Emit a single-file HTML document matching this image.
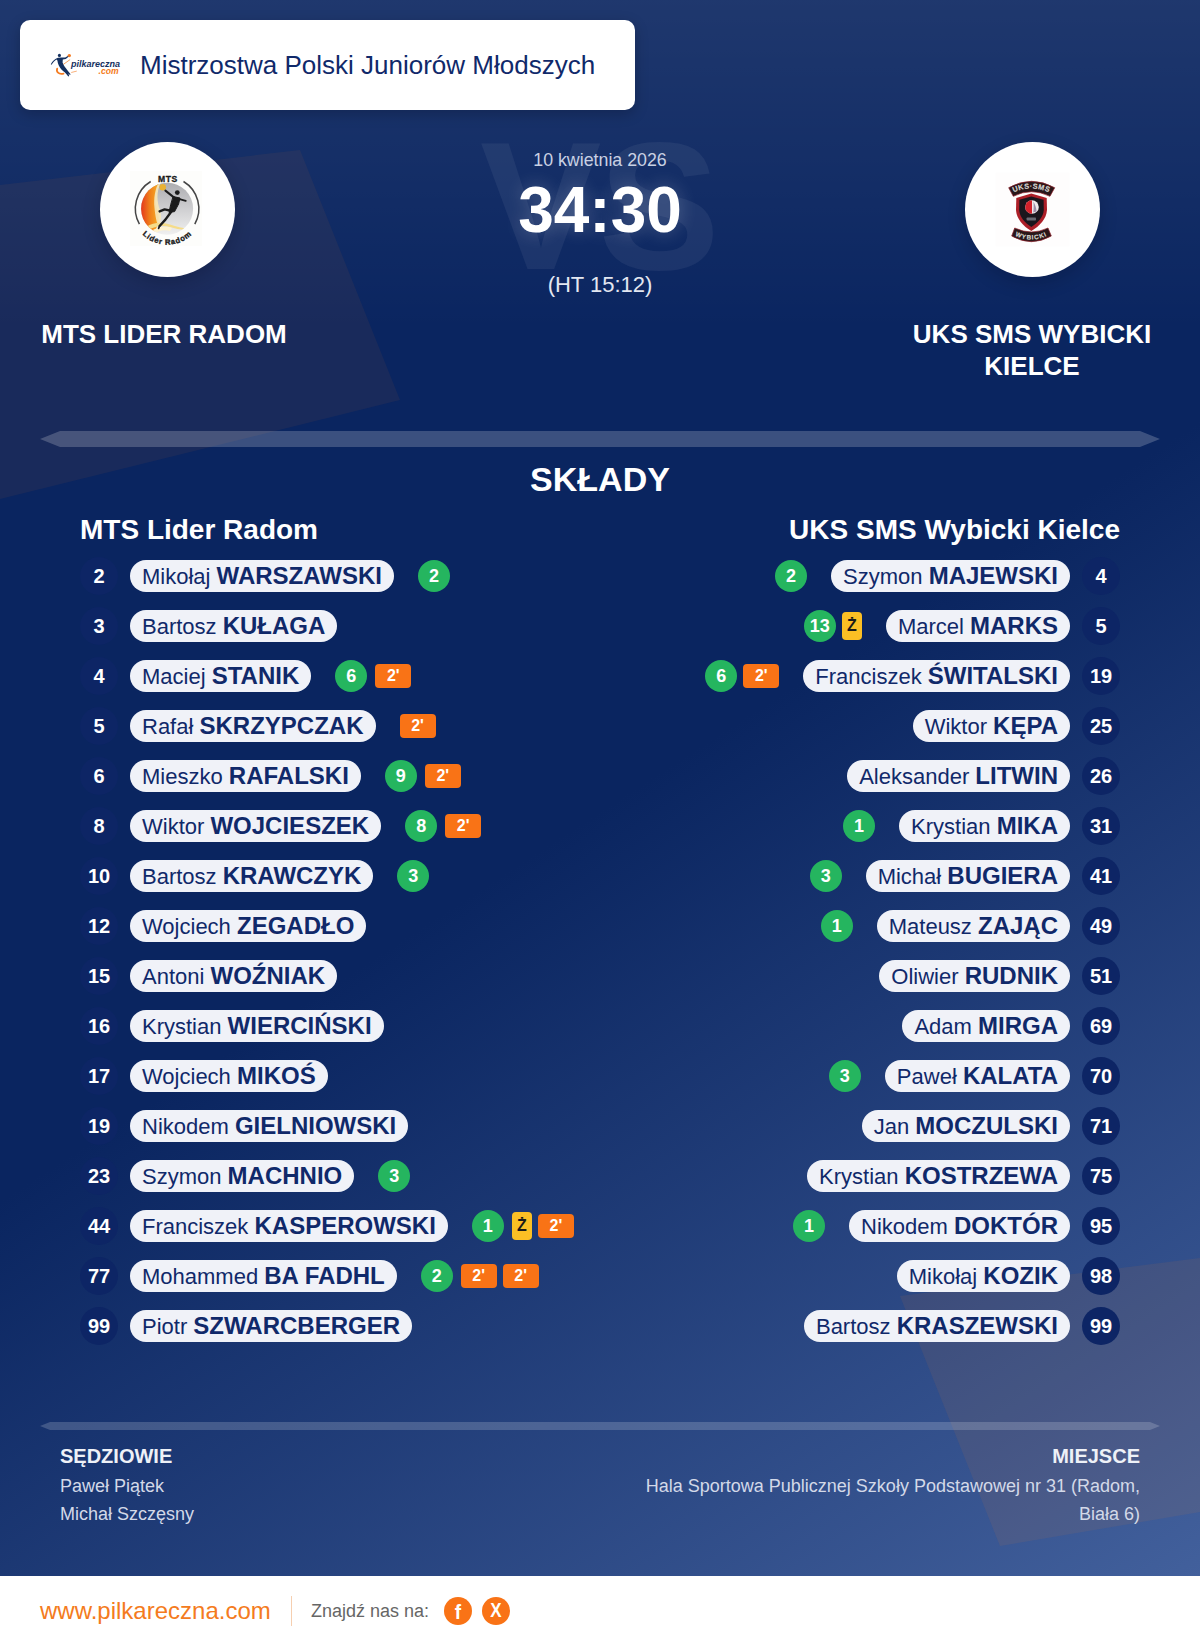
<!DOCTYPE html>
<html lang="pl">
<head>
<meta charset="utf-8">
<title>MTS Lider Radom - UKS SMS Wybicki Kielce</title>
<style>
*{box-sizing:border-box;margin:0;padding:0}
html,body{width:1200px;height:1646px;overflow:hidden}
body{font-family:"Liberation Sans",sans-serif;background:#0c2560;color:#fff;position:relative}
#bg{position:absolute;left:0;top:0;width:1200px;height:1576px;overflow:hidden;
 background:linear-gradient(180deg,rgba(255,255,255,.085) 0,rgba(255,255,255,0) 330px),linear-gradient(147deg,#0a2560 0%,#0a2560 51%,#42609c 100%)}
#bg svg{position:absolute;left:0;top:0}
.card{position:absolute;left:20px;top:20px;width:615px;height:90px;background:#fff;border-radius:10px;box-shadow:0 4px 14px rgba(0,0,10,.22)}
.card .title{position:absolute;left:120px;top:0;line-height:90px;font-size:26px;color:#10296a;white-space:nowrap}
.card svg{position:absolute;left:30px;top:40px;overflow:visible}
.crest{position:absolute;top:142px;width:135px;height:135px;border-radius:50%;background:#fff;box-shadow:0 6px 18px rgba(0,0,20,.2)}
.crest svg{position:absolute;left:0;top:0}
.tname{position:absolute;top:318px;width:300px;text-align:center;font-weight:bold;font-size:26px;line-height:32px}
.vs{position:absolute;left:400px;width:400px;top:96px;text-align:center;font-weight:bold;font-size:182px;line-height:220px;color:rgba(255,255,255,.06);letter-spacing:-3px;text-indent:-3px}
.date{position:absolute;left:400px;width:400px;top:149px;text-align:center;font-size:17.8px;line-height:22px;color:#c9d1e3}
.score{position:absolute;left:400px;width:400px;top:172px;text-align:center;font-size:64px;line-height:76px;font-weight:bold;text-shadow:0 0 18px rgba(255,255,255,.25)}
/*ht*/.ht{position:absolute;left:400px;width:400px;top:272px;text-align:center;font-size:22px;line-height:26px;color:#e3e7f1}
.h2{position:absolute;left:0;width:1200px;top:458px;text-align:center;font-size:34px;line-height:42px;font-weight:bold}
.th{position:absolute;top:513px;font-size:28px;line-height:34px;font-weight:bold;white-space:nowrap}
.row{position:absolute;height:38px;display:flex;align-items:center;white-space:nowrap}
.row.l{left:80px}
.row.r{right:80px;flex-direction:row-reverse}
.num{width:38px;height:38px;border-radius:50%;background:#0d2565;font-weight:bold;font-size:20px;line-height:38px;text-align:center;flex:none}
.pill{height:32px;border-radius:16px;background:#f0f2f8;color:#10296a;font-size:22px;line-height:32px;padding:0 12px;flex:none}
.l .pill{margin-left:12px}
.r .pill{margin-right:12px}
.pill b{font-weight:bold;font-size:24px}
.ev{display:flex;align-items:center}
.l .ev{margin-left:24px}
.r .ev{margin-right:24px}
.g{width:32px;height:32px;border-radius:50%;background:#25b55f;font-weight:bold;font-size:18px;line-height:32px;text-align:center;margin-right:8px;flex:none}
.t{width:36px;height:24px;border-radius:4px;background:#f97316;font-weight:bold;font-size:16px;line-height:24px;text-align:center;margin-right:6px;flex:none}
.y{width:20px;height:28px;border-radius:4px;background:#fbbf24;color:#1a1a1a;font-weight:bold;font-size:16px;line-height:28px;text-align:center;margin-right:6px;flex:none}
.r .g{margin-right:6px}
.r .ev> :last-child{margin-right:0}
.fh{position:absolute;top:1444px;font-size:20px;line-height:24px;font-weight:bold;color:#eef1f7}
.ft{position:absolute;top:1472px;font-size:18px;line-height:28px;color:#d3d9e8}
#foot{position:absolute;left:0;top:1576px;width:1200px;height:70px;background:#fff}
#foot .www{position:absolute;left:40px;top:0;line-height:70px;font-size:24px;color:#f47b20}
#foot .sep{position:absolute;left:291px;top:20px;width:1px;height:30px;background:#f6cfb0}
#foot .zn{position:absolute;left:311px;top:0;line-height:70px;font-size:18px;color:#666}
#foot .ic{position:absolute;top:21px;width:28px;height:28px;border-radius:50%;background:#f97316;color:#fff;font-weight:bold;text-align:center;line-height:28px;font-size:17px}
#foot .ic span{display:inline-block}
</style>
</head>
<body>
<div id="bg">
<svg width="1200" height="1576" viewBox="0 0 1200 1576">
<polygon points="0,185 300,150 400,400 0,499" fill="rgba(244,123,32,0.068)"/>
<polygon points="900,1296 1200,1258 1200,1512 1000,1546" fill="rgba(244,123,32,0.085)"/>
<polygon points="40,439 60,431 1140,431 1160,439 1140,447 60,447" fill="rgba(255,255,255,0.2)"/>
<polygon points="40,1426 50,1422 1150,1422 1160,1426 1150,1430 50,1430" fill="rgba(255,255,255,0.18)"/>
</svg>
</div>

<div class="card">
<svg width="80" height="34" viewBox="0 0 80 34">
<g fill="none" stroke="#f47b20" stroke-linecap="round">
<path d="M7.2,8.6 C6,11.8 8.5,14.6 13.5,13.6" stroke-width="1.8"/>
<path d="M13.6,4.2 L19.8,-0.2" stroke-width="0.7"/>
<path d="M21.6,12.4 L26.4,11.2" stroke-width="0.6"/>
</g>
<circle cx="19.3" cy="-4.4" r="1.7" fill="#f47b20"/>
<g fill="#14305f">
<circle cx="9.4" cy="-4.6" r="1.55"/>
<path d="M0.8,4.2 C2.4,1.2 5,-1.4 8,-2.3 L11.2,-2.6 L15.2,-2.4 L17.8,-4 L18.5,-3.2 L15.8,-0.9 L12.8,-0.4 L12.6,2.6 C13.6,5.6 15.6,8 17.6,10.6 L20.6,14.2 L19.9,14.9 L18.4,13.6 L19.2,16 L18.3,16.4 C16.4,13.4 13.6,11.6 11.2,9.2 C9.2,7 7.8,4.2 7.4,0.6 L6.6,-0.6 C4.6,0.6 2.8,2.6 1.6,4.8 Z"/>
</g>
<text x="20.9" y="6.6" font-family="Liberation Sans,sans-serif" font-weight="bold" font-style="italic" font-size="9.6" fill="#14305f" textLength="49" lengthAdjust="spacingAndGlyphs">pilkareczna</text>
<text x="48.6" y="13.8" font-family="Liberation Sans,sans-serif" font-weight="bold" font-style="italic" font-size="8.6" fill="#f47b20" textLength="20" lengthAdjust="spacingAndGlyphs">.com</text>
</svg>
<div class="title">Mistrzostwa Polski Juniorów Młodszych</div>
</div>

<div class="crest" style="left:100px"><svg width="135" height="135" viewBox="0 0 135 135">
<defs>
<linearGradient id="gfl" x1="0" y1="0" x2="1" y2="0"><stop offset="0.1" stop-color="#e3321c"/><stop offset=".5" stop-color="#ef7d1a"/><stop offset="1" stop-color="#f9b92a"/></linearGradient>
<linearGradient id="ggr" x1="0" y1="0" x2="0" y2="1"><stop offset="0" stop-color="#adadb0"/><stop offset=".55" stop-color="#d2d2d4"/><stop offset="1" stop-color="#f0f0f0"/></linearGradient>
<clipPath id="cin"><circle cx="67.1" cy="66.7" r="26"/></clipPath>
<path id="arcb" d="M31.6,67.1 A35.6,35.6 0 0 0 102.8,67.1"/>
</defs>
<rect x="30" y="29" width="72" height="75" fill="#fdfdfb"/>
<circle cx="67.1" cy="66.7" r="26" fill="url(#ggr)"/>
<g clip-path="url(#cin)">
<path d="M38,38 L61,38 C54,48 54,60 58,70 C60,78 58,86 50,96 L38,96 Z" fill="url(#gfl)"/>
<path d="M61,40 C56,50 57,60 60,68 C62,75 61,80 58,84 C56,78 55,72 54.5,66 C53.5,56 55,47 59,40 Z" fill="#f6e7b8" opacity=".9"/>
<path d="M46,85 C54,80 62,80 70,82.4 C78,84.8 84,86.6 90,86 L89,87.6 C82,88.4 76,86.8 70,85 C62,83 54,84.4 48,88.6 Z" fill="#f5dc8a"/>
<path d="M50,90 C58,84 66,84 72,86 L70,89 C64,87.5 58,88.5 54,93 Z" fill="#fff3cf"/>
</g>
<circle cx="62.7" cy="45.2" r="3.3" fill="#e9b233"/>
<g fill="#1b1b1b" stroke="#1b1b1b" stroke-linejoin="round" stroke-linecap="round">
<circle cx="77.3" cy="50.6" r="2.4" stroke="none"/>
<path d="M74.2,55.6 L65.4,48.6" stroke-width="2" fill="none"/>
<path d="M78.6,56.8 L85.8,58.8" stroke-width="1.8" fill="none"/>
<path d="M73.4,54.6 L80,56 L78.6,62 L74.6,69.6 L69,70.4 L70.6,63 Z" stroke-width="1"/>
<path d="M72,69 L64.6,67.4 L59.6,69.4" stroke-width="2.4" fill="none"/>
<path d="M71,70 L65.4,77.6 L59.6,84" stroke-width="2.4" fill="none"/>
<path d="M59.6,84 L58.6,86.4" stroke-width="1.6" fill="none"/>
</g>
<path d="M50.7,39.5 A31.7,31.7 0 0 0 39.4,82.1" fill="none" stroke="#454545" stroke-width="1.5"/>
<path d="M83.5,39.5 A31.7,31.7 0 0 1 94.8,82.1" fill="none" stroke="#454545" stroke-width="1.5"/>
<text x="67.9" y="40.4" text-anchor="middle" font-family="Liberation Sans,sans-serif" font-weight="bold" font-size="8.6" fill="#1a1a1a" letter-spacing=".5" stroke="#1a1a1a" stroke-width=".3">MTS</text>
<text font-family="Liberation Sans,sans-serif" font-weight="bold" font-size="7.7" fill="#1c1c1c" letter-spacing=".75" stroke="#1c1c1c" stroke-width=".35"><textPath href="#arcb" startOffset="50%" text-anchor="middle">Lider Radom</textPath></text>
</svg></div>
<div class="crest" style="left:965px"><svg width="135" height="135" viewBox="0 0 135 135">
<defs>
<path id="ut" d="M44.6,52.3 Q66.3,40.7 88,52.3"/>
<path id="ub" d="M46.4,91.6 Q66.3,103.6 86.2,91.6"/>
</defs>
<rect x="30.5" y="30.5" width="74" height="74" fill="#fefdfd"/>
<path d="M51.3,56 L66.3,51.6 L81.7,56 L82,68 C81.4,77 74.6,84 66.3,89 C58,84 51.6,77 51,68 Z" fill="#ac1f28"/>
<path d="M54.4,57.8 L66.3,54.6 L78.6,57.8 L78.8,68 C78.4,75 73,80.8 66.3,85 C59.6,80.8 54.6,75 54.2,68 Z" fill="#1a161d"/>
<circle cx="67" cy="65" r="6.8" fill="#f0e9ec"/>
<path d="M67,58.2 A6.8,6.8 0 0 0 67,71.8 Z" fill="#d3212b"/>
<path d="M68.4,59.8 C70,62 71.4,66 71.6,69.6 L68.2,70.6 C68.8,67 68.8,63 68.4,59.8 Z" fill="#9c8fa8"/>
<rect x="61.6" y="75.4" width="9.4" height="3.2" rx=".8" fill="#6a6a74"/>
<path d="M43.7,45.7 Q66.3,32.9 89.7,45.7 L85,54.3 Q66.3,45.1 48.3,54.3 Z" fill="#2a171a" stroke="#8e1c26" stroke-width=".7"/>
<path d="M49.7,86 Q66.3,94 83,86 L86.3,94 Q66.3,105.4 46.7,94 Z" fill="#2a171a" stroke="#8e1c26" stroke-width=".7"/>
<text font-family="Liberation Sans,sans-serif" font-weight="bold" font-size="7.3" fill="#d9d7d3" letter-spacing=".45" stroke="#d9d7d3" stroke-width=".15"><textPath href="#ut" startOffset="50%" text-anchor="middle">UKS·SMS</textPath></text>
<text font-family="Liberation Sans,sans-serif" font-weight="bold" font-size="6.3" fill="#d9d7d3" letter-spacing=".95" stroke="#d9d7d3" stroke-width=".15"><textPath href="#ub" startOffset="50%" text-anchor="middle">WYBICKI</textPath></text>
</svg></div>
<div class="tname" style="left:14px">MTS LIDER RADOM</div>
<div class="tname" style="left:882px">UKS SMS WYBICKI KIELCE</div>

<div class="vs">VS</div>
<div class="date">10 kwietnia 2026</div>
<div class="score">34:30</div>
<div class="ht">(HT 15:12)</div>

<div class="h2">SKŁADY</div>
<div class="th" style="left:80px">MTS Lider Radom</div>
<div class="th" style="right:80px">UKS SMS Wybicki Kielce</div>

<!--ROWS_START-->
<div class="row l" style="top:557px"><div class="num">2</div><div class="pill">Mikołaj <b>WARSZAWSKI</b></div><div class="ev"><span class="g">2</span></div></div>
<div class="row l" style="top:607px"><div class="num">3</div><div class="pill">Bartosz <b>KUŁAGA</b></div></div>
<div class="row l" style="top:657px"><div class="num">4</div><div class="pill">Maciej <b>STANIK</b></div><div class="ev"><span class="g">6</span><span class="t">2'</span></div></div>
<div class="row l" style="top:707px"><div class="num">5</div><div class="pill">Rafał <b>SKRZYPCZAK</b></div><div class="ev"><span class="t">2'</span></div></div>
<div class="row l" style="top:757px"><div class="num">6</div><div class="pill">Mieszko <b>RAFALSKI</b></div><div class="ev"><span class="g">9</span><span class="t">2'</span></div></div>
<div class="row l" style="top:807px"><div class="num">8</div><div class="pill">Wiktor <b>WOJCIESZEK</b></div><div class="ev"><span class="g">8</span><span class="t">2'</span></div></div>
<div class="row l" style="top:857px"><div class="num">10</div><div class="pill">Bartosz <b>KRAWCZYK</b></div><div class="ev"><span class="g">3</span></div></div>
<div class="row l" style="top:907px"><div class="num">12</div><div class="pill">Wojciech <b>ZEGADŁO</b></div></div>
<div class="row l" style="top:957px"><div class="num">15</div><div class="pill">Antoni <b>WOŹNIAK</b></div></div>
<div class="row l" style="top:1007px"><div class="num">16</div><div class="pill">Krystian <b>WIERCIŃSKI</b></div></div>
<div class="row l" style="top:1057px"><div class="num">17</div><div class="pill">Wojciech <b>MIKOŚ</b></div></div>
<div class="row l" style="top:1107px"><div class="num">19</div><div class="pill">Nikodem <b>GIELNIOWSKI</b></div></div>
<div class="row l" style="top:1157px"><div class="num">23</div><div class="pill">Szymon <b>MACHNIO</b></div><div class="ev"><span class="g">3</span></div></div>
<div class="row l" style="top:1207px"><div class="num">44</div><div class="pill">Franciszek <b>KASPEROWSKI</b></div><div class="ev"><span class="g">1</span><span class="y">Ż</span><span class="t">2'</span></div></div>
<div class="row l" style="top:1257px"><div class="num">77</div><div class="pill">Mohammed <b>BA FADHL</b></div><div class="ev"><span class="g">2</span><span class="t">2'</span><span class="t">2'</span></div></div>
<div class="row l" style="top:1307px"><div class="num">99</div><div class="pill">Piotr <b>SZWARCBERGER</b></div></div>
<div class="row r" style="top:557px"><div class="num">4</div><div class="pill">Szymon <b>MAJEWSKI</b></div><div class="ev"><span class="g">2</span></div></div>
<div class="row r" style="top:607px"><div class="num">5</div><div class="pill">Marcel <b>MARKS</b></div><div class="ev"><span class="g">13</span><span class="y">Ż</span></div></div>
<div class="row r" style="top:657px"><div class="num">19</div><div class="pill">Franciszek <b>ŚWITALSKI</b></div><div class="ev"><span class="g">6</span><span class="t">2'</span></div></div>
<div class="row r" style="top:707px"><div class="num">25</div><div class="pill">Wiktor <b>KĘPA</b></div></div>
<div class="row r" style="top:757px"><div class="num">26</div><div class="pill">Aleksander <b>LITWIN</b></div></div>
<div class="row r" style="top:807px"><div class="num">31</div><div class="pill">Krystian <b>MIKA</b></div><div class="ev"><span class="g">1</span></div></div>
<div class="row r" style="top:857px"><div class="num">41</div><div class="pill">Michał <b>BUGIERA</b></div><div class="ev"><span class="g">3</span></div></div>
<div class="row r" style="top:907px"><div class="num">49</div><div class="pill">Mateusz <b>ZAJĄC</b></div><div class="ev"><span class="g">1</span></div></div>
<div class="row r" style="top:957px"><div class="num">51</div><div class="pill">Oliwier <b>RUDNIK</b></div></div>
<div class="row r" style="top:1007px"><div class="num">69</div><div class="pill">Adam <b>MIRGA</b></div></div>
<div class="row r" style="top:1057px"><div class="num">70</div><div class="pill">Paweł <b>KALATA</b></div><div class="ev"><span class="g">3</span></div></div>
<div class="row r" style="top:1107px"><div class="num">71</div><div class="pill">Jan <b>MOCZULSKI</b></div></div>
<div class="row r" style="top:1157px"><div class="num">75</div><div class="pill">Krystian <b>KOSTRZEWA</b></div></div>
<div class="row r" style="top:1207px"><div class="num">95</div><div class="pill">Nikodem <b>DOKTÓR</b></div><div class="ev"><span class="g">1</span></div></div>
<div class="row r" style="top:1257px"><div class="num">98</div><div class="pill">Mikołaj <b>KOZIK</b></div></div>
<div class="row r" style="top:1307px"><div class="num">99</div><div class="pill">Bartosz <b>KRASZEWSKI</b></div></div>
<!--ROWS_END-->

<div class="fh" style="left:60px">SĘDZIOWIE</div>
<div class="ft" style="left:60px">Paweł Piątek<br>Michał Szczęsny</div>
<div class="fh" style="right:60px">MIEJSCE</div>
<div class="ft" style="right:60px;width:520px;text-align:right">Hala Sportowa Publicznej Szkoły Podstawowej nr 31 (Radom, Biała 6)</div>

<div id="foot">
<div class="www">www.pilkareczna.com</div>
<div class="sep"></div>
<div class="zn">Znajdź nas na:</div>
<div class="ic" style="left:444px"><span style="font-size:19px;transform:translateY(1px) scaleY(1.1)">f</span></div>
<div class="ic" style="left:482px"><span style="transform:scaleY(1.2)">X</span></div>
</div>
</body>
</html>
